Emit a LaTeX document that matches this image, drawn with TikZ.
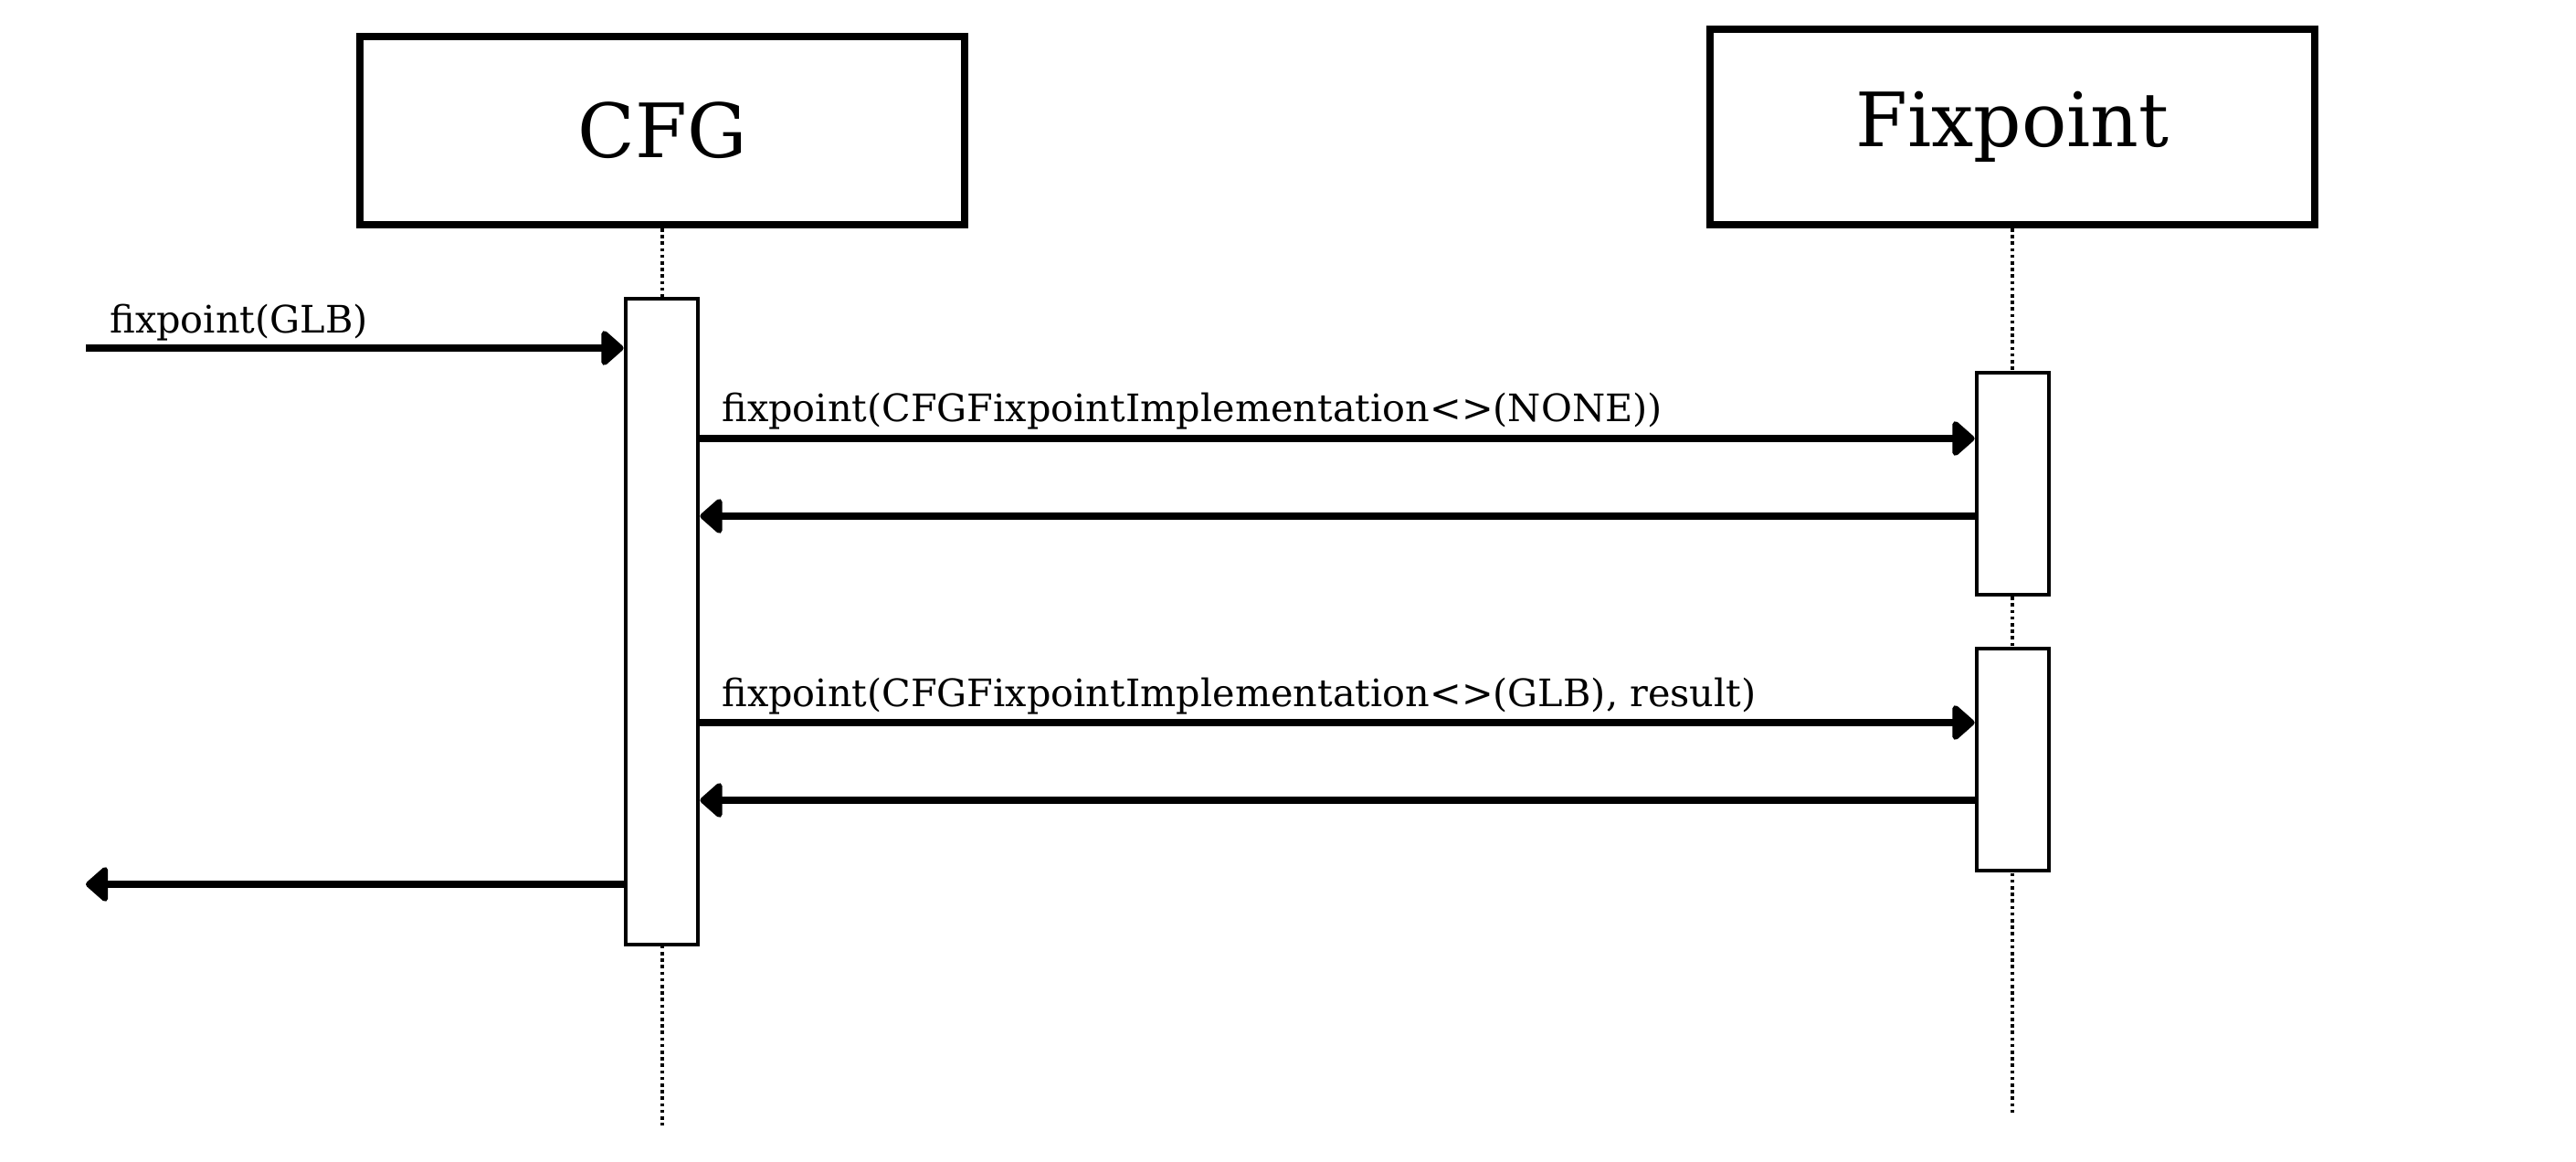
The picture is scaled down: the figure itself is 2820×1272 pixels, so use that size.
\documentclass[tikz,border=0pt]{standalone}
\usepackage{fontspec}
\setmainfont{DejaVu Serif}
\usetikzlibrary{arrows.meta}
\begin{document}
\begin{tikzpicture}[x=0.5pt,y=-0.5pt,
  headbox/.style={draw,line width=4pt,minimum width=331pt,inner sep=0pt,font=\fontsize{41}{48}\selectfont},
  actbox/.style={draw,fill=white,line width=2.4pt,minimum width=39.5pt,inner sep=0pt},
  lifeline/.style={line width=1.6pt,dash pattern=on 1.8pt off 1.8pt},
  msg/.style={line width=4pt,-{Triangle[length=13pt,width=22pt,round]}},
  lbl/.style={anchor=base west,inner sep=0pt,font=\fontsize{20.7}{25}\selectfont}]
\useasboundingbox (0,0) rectangle (2820,1272);
% heads
\node[headbox,minimum height=103pt] (cfg) at (725,143) {CFG};
\node[headbox,minimum height=107pt] (fix) at (2203,139) {Fixpoint};
% lifeline ends
\coordinate (cfgend) at (725,1232);
\coordinate (fixend) at (2203,1221);
\draw[lifeline] (cfg.south) -- (cfgend);
\draw[lifeline] (fix.south) -- (fixend);
% activations
\node[actbox,minimum height=353.5pt] (cfgact) at (724.5,680.5) {};
\node[actbox,minimum height=121.5pt] (fixactA) at (2203.5,529.5) {};
\node[actbox,minimum height=121.5pt] (fixactB) at (2203.5,831.5) {};
% free ends
\coordinate (inpt) at (94,381);
\coordinate (outpt) at (94,968);
% messages
\draw[msg] (inpt) -- (inpt -| cfgact.west);
\node[lbl] (l1) at (120,365) {fixpoint(GLB)};
\draw[msg] (cfgact.east |- 0,480) -- (fixactA.west |- 0,480);
\node[lbl] (l2) at (790,462) {fixpoint(CFGFixpointImplementation<>(NONE))};
\draw[msg] (fixactA.west |- 0,565) -- (cfgact.east |- 0,565);
\draw[msg] (cfgact.east |- 0,791) -- (fixactB.west |- 0,791);
\node[lbl] (l3) at (790,773) {fixpoint(CFGFixpointImplementation<>(GLB), result)};
\draw[msg] (fixactB.west |- 0,876) -- (cfgact.east |- 0,876);
\draw[msg] (cfgact.west |- outpt) -- (outpt);
\end{tikzpicture}
\end{document}
